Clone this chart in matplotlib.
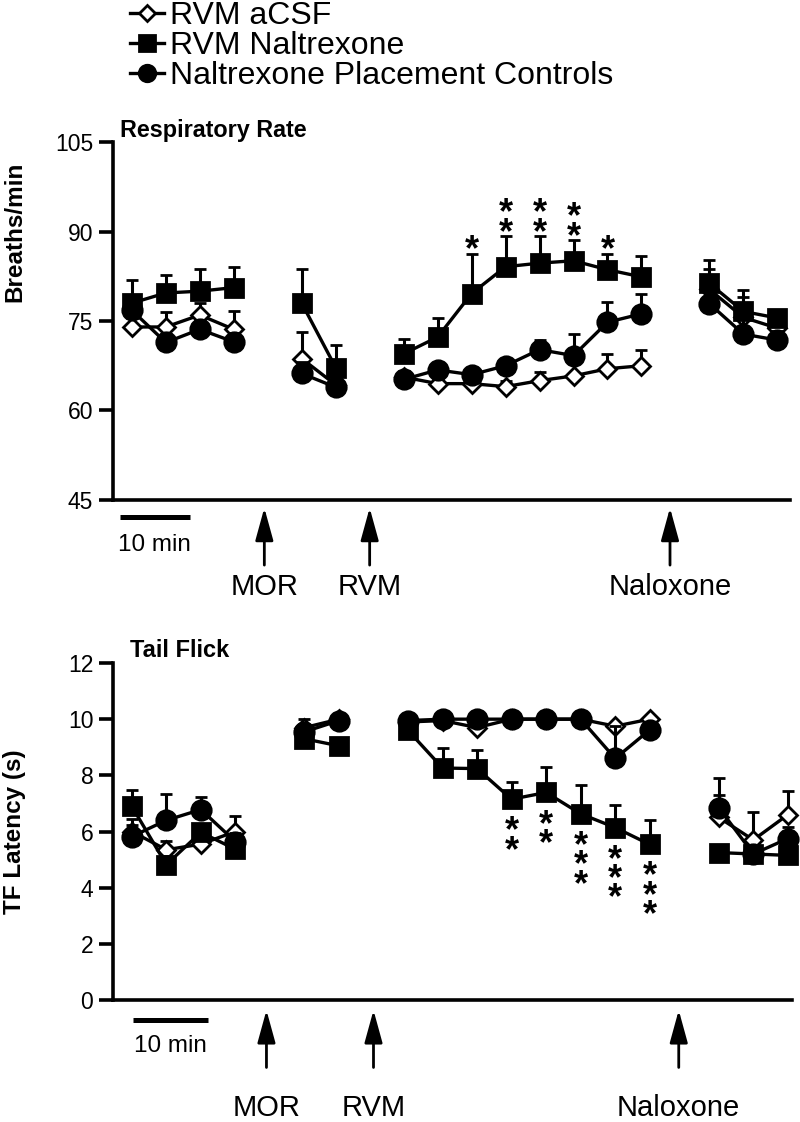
import numpy as np
import matplotlib.pyplot as plt
from matplotlib.transforms import blended_transform_factory

plt.rcParams['font.family'] = ['Liberation Sans', 'DejaVu Sans']

nan = np.nan

# reading times (min); NaN entries mark the injection slots (no reading)
t = np.arange(20) * 5.0

# Respiratory rate (breaths/min), mean and upper SEM
rr_acsf = [74.0, 74.0, 76.0, 73.6, nan, 68.7, 64.3, nan,
           65.6, 64.5, 64.5, 64.0, 65.0, 65.8, 67.0, 67.5, nan, 80.3, 75.6, 73.8]
rr_acsf_err = [1.5, 2.5, 2.0, 3.1, nan, 4.5, 2.0, nan,
               1.0, 1.0, 1.0, 1.0, 1.5, 2.8, 2.5, 2.7, nan, 3.5, 3.5, 2.0]
rr_nalt = [78.0, 79.7, 80.0, 80.6, nan, 78.0, 67.2, nan,
           69.5, 72.3, 79.6, 84.1, 84.7, 85.1, 83.6, 82.4, nan, 81.3, 76.6, 75.5]
rr_nalt_err = [3.9, 3.0, 3.7, 3.5, nan, 5.7, 3.7, nan,
               2.4, 3.2, 6.6, 5.1, 4.5, 3.4, 2.6, 3.5, nan, 3.9, 3.6, 1.3]
rr_ctrl = [76.8, 71.4, 73.6, 71.5, nan, 66.2, 63.9, nan,
           65.2, 66.8, 66.0, 67.5, 70.2, 69.2, 74.8, 76.2, nan, 77.9, 72.8, 71.8]
rr_ctrl_err = [1.0, 1.5, 1.5, 1.5, nan, 2.0, 1.5, nan,
               1.2, 1.0, 1.0, 1.2, 1.6, 3.6, 3.4, 3.3, nan, 2.0, 2.5, 1.5]

# Tail flick latency (s)
tf_acsf = [6.0, 5.35, 5.55, 6.0, nan, 9.7, 10.0, nan,
           9.9, 9.95, 9.7, 10.0, 10.0, 10.0, 9.75, 10.0, nan, 6.5, 5.7, 6.6]
tf_acsf_err = [0.45, 0.3, 0.3, 0.55, nan, 0.3, 0.0, nan,
               0.1, 0.05, 0.1, 0.0, 0.0, 0.0, 0.1, 0.0, nan, 0.8, 1.0, 0.85]
tf_nalt = [6.9, 4.82, 5.97, 5.37, nan, 9.3, 9.05, nan,
           9.6, 8.26, 8.24, 7.15, 7.39, 6.63, 6.14, 5.54, nan, 5.25, 5.2, 5.15]
tf_nalt_err = [0.58, 0.3, 0.3, 0.3, nan, 0.2, 0.2, nan,
               0.15, 0.7, 0.65, 0.6, 0.9, 1.03, 0.8, 0.87, nan, 0.2, 0.2, 0.2]
tf_ctrl = [5.82, 6.40, 6.78, 5.64, nan, 9.55, 9.95, nan,
           9.95, 10.0, 10.0, 10.0, 10.0, 10.0, 8.6, 9.62, nan, 6.85, 5.2, 5.75]
tf_ctrl_err = [0.4, 0.93, 0.46, 0.3, nan, 0.2, 0.1, nan,
               0.1, 0.05, 0.05, 0.05, 0.05, 0.05, 1.15, 0.1, nan, 1.05, 0.3, 0.4]

labels = ['RVM aCSF', 'RVM Naltrexone', 'Naltrexone Placement Controls']

# significance marks: index into t, number of asterisks
rr_star_idx = [10, 11, 12, 13, 14]
rr_star_n = [1, 2, 2, 2, 1]
tf_star_idx = [11, 12, 13, 14, 15]
tf_star_n = [2, 2, 3, 3, 3]

events = ['MOR', 'RVM', 'Naloxone']
event_t = [19.5, 35.0, 79.2]

fig = plt.figure(figsize=(8, 11.22), dpi=100)
ax1 = fig.add_axes([0.141, 0.5544, 0.846, 0.3190])
ax2 = fig.add_axes([0.141, 0.1087, 0.849, 0.3004])

styles = [('D', 'white', 9.5), ('o', 'black', 14), ('s', 'black', 13.5)]


def draw(ax, series):
    handles = []
    for (y, e), (mk, face, ms), lab, z in zip(series, styles, labels, [3, 4, 5]):
        e = np.array(e)
        c = ax.errorbar(t, y, yerr=[np.zeros_like(e), e], color='k', lw=2.4,
                        marker=mk, ms=ms, mfc=face, mec='k', mew=2,
                        elinewidth=2.2, capsize=4.5, capthick=2.6,
                        zorder=z, clip_on=False, label=lab)
        handles.append(c.lines[0])
    for s in ['top', 'right']:
        ax.spines[s].set_visible(False)
    for s in ['left', 'bottom']:
        ax.spines[s].set_linewidth(2.6)
    ax.set_xticks([])
    ax.tick_params(axis='y', direction='out', length=10, width=2.6,
                   labelsize=16.5, pad=4)
    return handles


h = draw(ax1, [(rr_acsf, rr_acsf_err), (rr_ctrl, rr_ctrl_err), (rr_nalt, rr_nalt_err)])
draw(ax2, [(tf_acsf, tf_acsf_err), (tf_ctrl, tf_ctrl_err), (tf_nalt, tf_nalt_err)])

ax1.set_ylim(45, 105)
ax1.set_yticks([45, 60, 75, 90, 105])
ax1.set_xlim(-2.8, 96.8)
ax2.set_ylim(0, 12)
ax2.set_yticks(range(0, 13, 2))
ax2.set_xlim(-2.75, 95.6)

ax1.set_ylabel('Breaths/min', fontsize=17.5, fontweight='bold')
ax1.yaxis.set_label_coords(-0.128, 0.75)
ax2.set_ylabel('TF Latency (s)', fontsize=17.5, fontweight='bold')
ax2.yaxis.set_label_coords(-0.128, 0.5)

ax1.text(0.01, 1.014, 'Respiratory Rate', transform=ax1.transAxes,
         fontsize=16.8, fontweight='bold', va='baseline')
ax2.text(0.025, 1.018, 'Tail Flick', transform=ax2.transAxes,
         fontsize=17, fontweight='bold', va='baseline')

# asterisks: one stacked text above the error bar (top) or below the mean (bottom)
fs_star = 26
for i, n in zip(rr_star_idx, rr_star_n):
    top = rr_nalt[i] + rr_nalt_err[i]
    ax1.annotate('\n'.join(['*'] * n), xy=(t[i], top), xytext=(0, 10 - 0.785 * fs_star),
                 textcoords='offset points', ha='center', va='bottom',
                 fontsize=fs_star, fontweight='bold', linespacing=0.42)
for i, n in zip(tf_star_idx, tf_star_n):
    ax2.annotate('\n'.join(['*'] * n), xy=(t[i], tf_nalt[i]), xytext=(0, -15 + 0.155 * fs_star),
                 textcoords='offset points', ha='center', va='top',
                 fontsize=fs_star, fontweight='bold', linespacing=0.42)

# event arrows, scale bars
for ax, tip, tail, lab_y, bar_x, bar_y, txt_y in [
        (ax1, -0.022, -0.182, -0.204, (-1.8, 8.6), -0.047, -0.096),
        (ax2, -0.030, -0.200, -0.279, (0.2, 11.0), -0.059, -0.104)]:
    tr = blended_transform_factory(ax.transData, ax.transAxes)
    for name, x in zip(events, event_t):
        ax.annotate('', xy=(x, tip), xycoords=tr, xytext=(x, tail), textcoords=tr,
                    arrowprops=dict(arrowstyle='-|>,head_length=2.0,head_width=0.55',
                                    color='k', lw=2, shrinkA=0, shrinkB=0))
        ax.text(x, lab_y, name, transform=tr, ha='center', va='top', fontsize=21)
    ax.plot(bar_x, [bar_y, bar_y], transform=tr, color='k', lw=3.6,
            clip_on=False, solid_capstyle='butt')
    ax.text(np.mean(bar_x), txt_y, '10 min', transform=tr, ha='center',
            va='top', fontsize=17.5)

fig.legend([h[0], h[2], h[1]], labels, loc='upper left',
           bbox_to_anchor=(0.163, 0.999), frameon=False, fontsize=23,
           handlelength=1.05, handletextpad=0.2, labelspacing=0.0,
           borderpad=0, borderaxespad=0, markerscale=0.85)

fig.savefig('out.png', dpi=100)
